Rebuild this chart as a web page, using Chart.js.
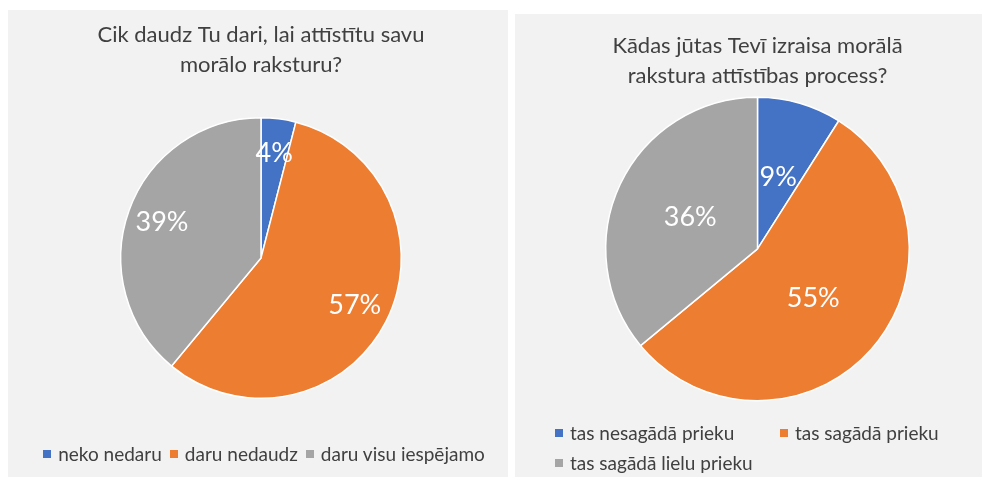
<!DOCTYPE html>
<html>
<head>
<meta charset="utf-8">
<script src="https://cdn.jsdelivr.net/npm/chart.js@4"></script>
<style>
  body { margin: 0; background: #fff; width: 983px; height: 477px; overflow: hidden; position: relative; font-family: Lato, "Open Sans", sans-serif; }
  .panel { position: absolute; background: #f2f2f2; }
  .panel canvas { position: absolute; left: 0; top: 0; }
  .legend { position: absolute; color: #404040; font-size: 19px; line-height: 20px; }
  .legend .item { display: inline-flex; align-items: center; white-space: nowrap; }
  .legend .box { width: 8px; height: 8px; margin-right: 7px; }
  #legend1 { left: 6px; width: 500px; top: 431px; text-align: center; }
  #legend1 .item { margin: 0 4px; }
  #legend2 { left: 40px; top: 409px; display: grid; grid-template-columns: 225px auto; row-gap: 10px; }
</style>
</head>
<body>
<div class="panel" id="p1" style="left:8px;top:10px;width:500px;height:467px;">
  <canvas id="chart1" width="500" height="467"></canvas>
  <div class="legend" id="legend1"></div>
</div>
<div class="panel" id="p2" style="left:515px;top:14px;width:467px;height:463px;">
  <canvas id="chart2" width="467" height="463"></canvas>
  <div class="legend" id="legend2"></div>
</div>
<script>
// chart 1
const title1 = ['Cik daudz Tu dari, lai attīstītu savu', 'morālo raksturu?'];
const labels1 = ['neko nedaru', 'daru nedaudz', 'daru visu iespējamo'];
const values1 = [4, 57, 39];

// chart 2
const title2 = ['Kādas jūtas Tevī izraisa morālā', 'rakstura attīstības process?'];
const labels2 = ['tas nesagādā prieku', 'tas sagādā prieku', 'tas sagādā lielu prieku'];
const values2 = [9, 55, 36];

const colors = ['#4472C4', '#ED7D31', '#A5A5A5'];

// white percentage labels inside the slices
const pctLabels = {
  id: 'pctLabels',
  afterDatasetsDraw(chart, args, opts) {
    const ctx = chart.ctx;
    const data = chart.data.datasets[0].data;
    const total = data.reduce((a, b) => a + b, 0);
    ctx.save();
    ctx.fillStyle = '#fff';
    ctx.font = '27px Lato, "Open Sans", sans-serif';
    ctx.textAlign = 'center';
    ctx.textBaseline = 'middle';
    chart.getDatasetMeta(0).data.forEach((arc, i) => {
      const p = arc.getProps(['x', 'y', 'startAngle', 'endAngle', 'outerRadius'], true);
      const mid = (p.startAngle + p.endAngle) / 2;
      const r = p.outerRadius * opts.radius;
      ctx.fillText(Math.round(data[i] / total * 100) + '%', p.x + Math.cos(mid) * r, p.y + Math.sin(mid) * r);
    });
    ctx.restore();
  }
};

function makePie(id, title, labels, values, padding, titlePad, labelRadius) {
  return new Chart(document.getElementById(id), {
    type: 'pie',
    data: {
      labels: labels,
      datasets: [{
        data: values,
        backgroundColor: colors,
        borderColor: '#fff',
        borderWidth: 1.5
      }]
    },
    options: {
      responsive: false,
      animation: false,
      layout: { padding: padding },
      plugins: {
        legend: { display: false },
        tooltip: { enabled: false },
        title: {
          display: true,
          text: title,
          color: '#404040',
          font: { family: 'Lato', size: 22, weight: 'normal', lineHeight: 1.35 },
          padding: titlePad
        },
        pctLabels: { radius: labelRadius }
      }
    },
    plugins: [pctLabels]
  });
}

function makeLegend(id, labels) {
  const el = document.getElementById(id);
  labels.forEach((txt, i) => {
    const item = document.createElement('span');
    item.className = 'item';
    item.innerHTML = '<span class="box" style="background:' + colors[i] + '"></span>' + txt;
    el.appendChild(item);
  });
}

makePie('chart1', title1, labels1, values1, { left: 6, bottom: 78 }, { top: 10, bottom: 37.6 }, 0.75);
makePie('chart2', title2, labels2, values2, { left: 18, bottom: 75.6 }, { top: 17, bottom: 6 }, 0.49);
makeLegend('legend1', labels1);
makeLegend('legend2', labels2);
</script>
</body>
</html>
